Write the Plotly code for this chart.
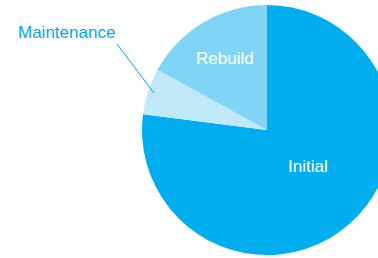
import plotly.graph_objects as go

labels = ["Initial", "Maintenance", "Rebuild"]
values = [77, 6, 17]
colors = ["#00AEEF", "#C2E9FA", "#80D5F6"]
inside_text = ["", "", "Rebuild"]

W, H = 392, 258
FONT = "Liberation Sans, Arial, sans-serif"

fig = go.Figure(go.Pie(
    labels=labels,
    values=values,
    text=inside_text,
    textinfo="text",
    textposition=["none", "none", "inside"],
    insidetextorientation="horizontal",
    textfont=dict(family=FONT, size=17, color="white"),
    marker=dict(colors=colors, line=dict(width=0)),
    sort=False,
    direction="clockwise",
    rotation=0,
    hole=0,
    domain=dict(x=[142 / W, 1], y=[3 / H, 253 / H]),
    showlegend=False,
    hoverinfo="label+percent",
))

# label inside the large slice
fig.add_annotation(
    x=308 / W, y=1 - 166 / H, xref="paper", yref="paper",
    xanchor="center", yanchor="middle",
    text=labels[0], showarrow=False,
    font=dict(family=FONT, size=17, color="white"),
)

# callout for the small slice
fig.add_annotation(
    x=154 / W, y=1 - 93 / H, xref="paper", yref="paper",
    ax=-37, ay=-49,
    text=labels[1],
    showarrow=True, arrowhead=0, arrowwidth=1, arrowcolor="#00A9E8",
    xanchor="right", yanchor="bottom",
    font=dict(family=FONT, size=17, color="#00A9E8"),
)

fig.update_layout(
    width=W, height=H,
    margin=dict(l=0, r=0, t=0, b=0),
    paper_bgcolor="white",
    plot_bgcolor="white",
)

fig.write_html(
    "out.html",
    config={"displayModeBar": False},
    post_script="document.body.style.margin='0';document.body.style.overflow='hidden';",
)
